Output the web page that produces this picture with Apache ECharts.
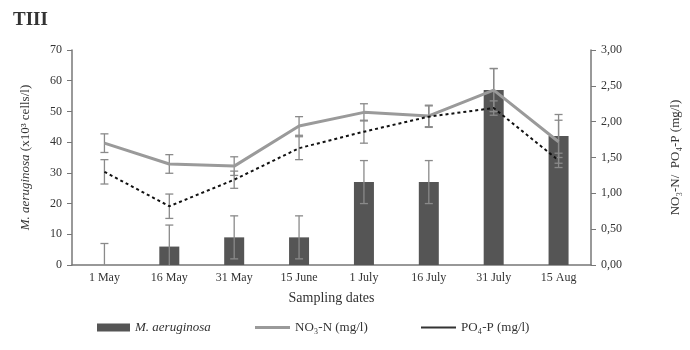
<!DOCTYPE html>
<html>
<head>
<meta charset="utf-8">
<script src="https://cdn.jsdelivr.net/npm/echarts@6/dist/echarts.min.js"></script>
<style>
  body { margin: 0; background: #fff; }
  #main { width: 690px; height: 350px; }
</style>
</head>
<body>
<div id="main"></div>
<script>
// sampling dates and measured values
var dates = ["1 May", "16 May", "31 May", "15 June", "1 July", "16 July", "31 July", "15 Aug"];
var cells = [0, 6, 9, 9, 27, 27, 57, 42];
var cellsErr = [7, 7, 7, 7, 7, 7, 7, 7];
var no3 = [1.70, 1.41, 1.38, 1.94, 2.13, 2.08, 2.44, 1.72];
var no3Err = [0.13, 0.13, 0.13, 0.13, 0.12, 0.15, 0.30, 0.30];
var po4 = [1.30, 0.82, 1.19, 1.63, 1.86, 2.07, 2.19, 1.46];
var po4Err = [0.17, 0.17, 0.12, 0.16, 0.16, 0.15, 0.10, 0.10];
var leftTicks = [0, 10, 20, 30, 40, 50, 60, 70];
var rightTicks = ["0,00", "0,50", "1,00", "1,50", "2,00", "2,50", "3,00"];

var font = "Liberation Serif";

// error bar ranges, lower end kept at or above zero
function errData(vals, errs) {
  var out = [];
  for (var i = 0; i < vals.length; i++) {
    out.push([i, Math.max(0, vals[i] - errs[i]), vals[i] + errs[i]]);
  }
  return out;
}

function errRender(params, api) {
  var lo = api.coord([api.value(0), api.value(1)]);
  var hi = api.coord([api.value(0), api.value(2)]);
  var w = 4;
  var st = { stroke: "#8a8a8a", lineWidth: 1.3 };
  var kids = [
    { type: "line", shape: { x1: hi[0], y1: hi[1], x2: lo[0], y2: lo[1] }, style: st },
    { type: "line", shape: { x1: hi[0] - w, y1: hi[1], x2: hi[0] + w, y2: hi[1] }, style: st }
  ];
  if (api.value(1) > 0) {
    kids.push({ type: "line", shape: { x1: lo[0] - w, y1: lo[1], x2: lo[0] + w, y2: lo[1] }, style: st });
  }
  return { type: "group", children: kids };
}

var chart = echarts.init(document.getElementById("main"));

chart.setOption({
  animation: false,
  textStyle: { fontFamily: font, color: "#333" },
  title: {
    text: "TIII",
    left: 8,
    top: 6,
    textStyle: { fontFamily: font, fontSize: 19, fontWeight: "bold", color: "#333" }
  },
  grid: { left: 72, right: 93, top: 50, bottom: 85 },
  legend: [
    {
      left: 92, top: 316, itemWidth: 33, itemHeight: 8, itemGap: 5,
      textStyle: { fontFamily: font, fontSize: 13, fontStyle: "italic", color: "#333" },
      data: [{ name: "M. aeruginosa", icon: "rect" }]
    },
    {
      left: 250, top: 316, itemWidth: 35, itemHeight: 3,
      textStyle: { fontFamily: font, fontSize: 13, color: "#333" },
      data: [{ name: "NO₃-N (mg/l)", icon: "rect", itemStyle: { color: "#9a9a9a" } }]
    },
    {
      left: 416, top: 316, itemWidth: 35, itemHeight: 2,
      textStyle: { fontFamily: font, fontSize: 13, color: "#333" },
      data: [{ name: "PO₄-P (mg/l)", icon: "rect", itemStyle: { color: "#333" } }]
    }
  ],
  xAxis: {
    type: "category",
    data: dates,
    name: "Sampling dates",
    nameLocation: "middle",
    nameGap: 26,
    nameTextStyle: { fontFamily: font, fontSize: 14, color: "#333" },
    axisLine: { lineStyle: { color: "#777", width: 1.5 } },
    axisTick: { show: false },
    axisLabel: { fontFamily: font, fontSize: 12, color: "#333", margin: 7 }
  },
  yAxis: [
    {
      type: "value",
      min: 0, max: 70, interval: 10,
      name: "{i|M. aeruginosa} (x10³ cells/l)",
      nameLocation: "middle",
      nameRotate: 90,
      nameGap: 40,
      nameTextStyle: {
        fontFamily: font, fontSize: 13, color: "#333",
        rich: { i: { fontFamily: font, fontSize: 13, fontStyle: "italic", color: "#333" } }
      },
      axisLine: { show: true, lineStyle: { color: "#777", width: 1.5 } },
      axisTick: { show: true, length: 5, lineStyle: { color: "#777" } },
      splitLine: { show: false },
      axisLabel: {
        fontFamily: font, fontSize: 12, color: "#333", margin: 10,
        formatter: function (v) { return leftTicks.indexOf(v) >= 0 ? String(v) : ""; }
      }
    },
    {
      type: "value",
      min: 0, max: 3, interval: 0.5,
      name: "NO₃-N/  PO₄-P (mg/l)",
      nameLocation: "middle",
      nameRotate: 90,
      nameGap: 78,
      nameTextStyle: { fontFamily: font, fontSize: 13, color: "#333" },
      axisLine: { show: true, lineStyle: { color: "#777", width: 1.5 } },
      axisTick: { show: true, length: 5, lineStyle: { color: "#777" } },
      splitLine: { show: false },
      axisLabel: {
        fontFamily: font, fontSize: 12, color: "#333", margin: 10,
        formatter: function (v) { return rightTicks[Math.round(v * 2)]; }
      }
    }
  ],
  series: [
    {
      name: "M. aeruginosa",
      type: "bar",
      data: cells,
      barWidth: 20,
      itemStyle: { color: "#555" },
      yAxisIndex: 0,
      z: 1
    },
    {
      type: "custom",
      data: errData(cells, cellsErr),
      renderItem: errRender,
      encode: { x: 0, y: [1, 2] },
      yAxisIndex: 0,
      z: 3
    },
    {
      name: "NO₃-N (mg/l)",
      type: "line",
      data: no3,
      yAxisIndex: 1,
      symbol: "none",
      lineStyle: { color: "#9a9a9a", width: 3 },
      itemStyle: { color: "#9a9a9a" },
      z: 4
    },
    {
      type: "custom",
      data: errData(no3, no3Err),
      renderItem: errRender,
      encode: { x: 0, y: [1, 2] },
      yAxisIndex: 1,
      z: 3
    },
    {
      name: "PO₄-P (mg/l)",
      type: "line",
      data: po4,
      yAxisIndex: 1,
      symbol: "none",
      lineStyle: { color: "#111", width: 2, type: [3, 3] },
      itemStyle: { color: "#111" },
      z: 5
    },
    {
      type: "custom",
      data: errData(po4, po4Err),
      renderItem: errRender,
      encode: { x: 0, y: [1, 2] },
      yAxisIndex: 1,
      z: 3
    }
  ]
});
</script>
</body>
</html>
